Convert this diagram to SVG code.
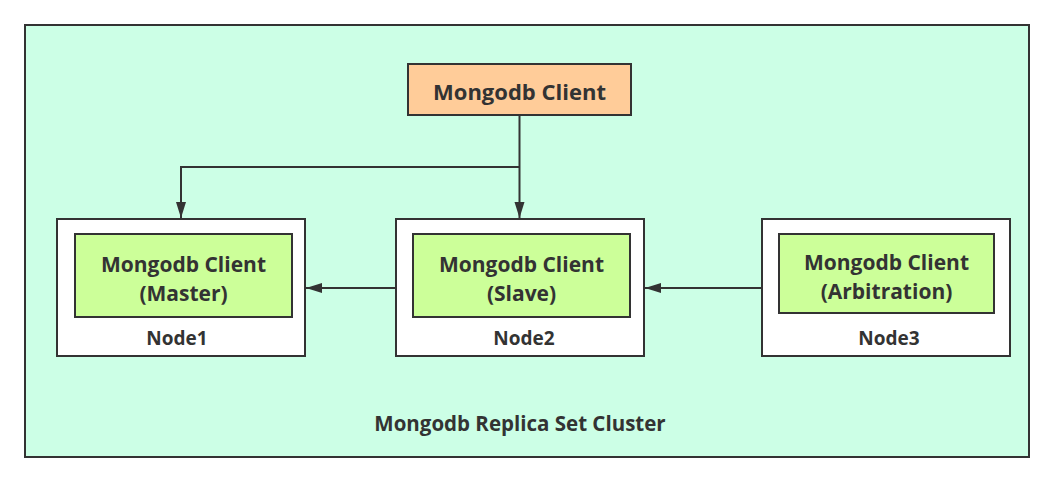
<svg xmlns="http://www.w3.org/2000/svg" width="1055" height="482" viewBox="0 0 1055 482">
<defs>
<style>
.box{stroke:#333;stroke-width:2}
.t{font-family:"Open Sans","Noto Sans","DejaVu Sans",sans-serif;font-weight:bold;fill:#333;text-anchor:middle}
.big{font-size:22px}
.mid{font-size:21px}
.small{font-size:19px}
.lbl{font-size:20.5px}
.line{fill:none;stroke:#333;stroke-width:2}
</style>
<marker id="arrL" viewBox="0 0 16 10" refX="16" refY="5" markerWidth="16" markerHeight="12" markerUnits="userSpaceOnUse" orient="auto">
<path d="M0,0 L16,5 L0,10 z" fill="#333"/>
</marker>
</defs>
<rect width="1055" height="482" fill="#ffffff"/>
<g id="cluster">
<rect class="box" x="25" y="25" width="1004" height="432" fill="#ccffe6"/>
<text class="t lbl" x="520" y="431">Mongodb Replica Set Cluster</text>
</g>
<g id="client">
<rect class="box" x="408" y="64" width="223" height="51" fill="#ffcc99"/>
<text class="t big" x="519.5" y="100">Mongodb Client</text>
</g>
<g id="node1">
<rect class="box" x="57" y="219" width="248" height="137" fill="#ffffff"/>
<rect class="box" x="75" y="234" width="217" height="83" fill="#ccff99"/>
<text class="t mid" x="183.5" y="272">Mongodb Client<tspan x="183.5" dy="29">(Master)</tspan></text>
<text class="t small" x="177" y="345">Node1</text>
</g>
<g id="node2">
<rect class="box" x="396" y="219" width="248" height="137" fill="#ffffff"/>
<rect class="box" x="413" y="234" width="217" height="83" fill="#ccff99"/>
<text class="t mid" x="521.5" y="272">Mongodb Client<tspan x="521.5" dy="29">(Slave)</tspan></text>
<text class="t small" x="524" y="345">Node2</text>
</g>
<g id="node3">
<rect class="box" x="762" y="219" width="248" height="137" fill="#ffffff"/>
<rect class="box" x="779" y="234" width="215" height="79" fill="#ccff99"/>
<text class="t mid" x="886.5" y="270">Mongodb Client<tspan x="886.5" dy="29">(Arbitration)</tspan></text>
<text class="t small" x="889" y="345">Node3</text>
</g>
<g id="connectors">
<path class="line" d="M519.5,115 V218" marker-end="url(#arrL)"/>
<path class="line" d="M519.5,167 H181 V218" marker-end="url(#arrL)"/>
<path class="line" d="M396,288 H306" marker-end="url(#arrL)"/>
<path class="line" d="M762,288 H645" marker-end="url(#arrL)"/>
</g>
</svg>
